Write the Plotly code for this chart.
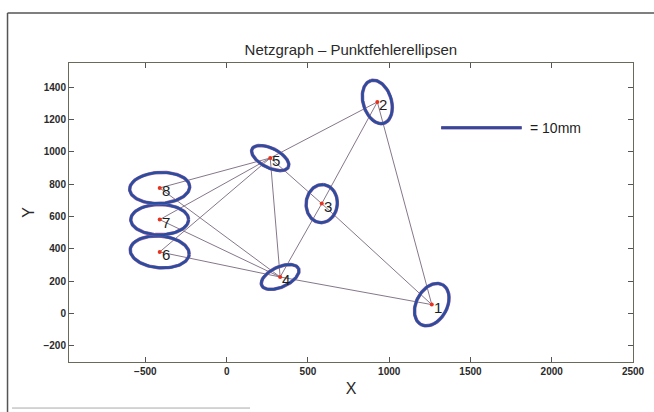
import numpy as np
import plotly.graph_objects as go

# ---- data ----
point_ids = ["1", "2", "3", "4", "5", "6", "7", "8"]
point_x = [1262, 927, 585, 329, 268, -412, -412, -412]
point_y = [55, 1309, 680, 226, 962, 381, 581, 777]

# error ellipses: semi-major, semi-minor (plot units), orientation of major axis (deg)
ell_a = [140, 138, 118, 125, 125, 182, 178, 185]
ell_b = [95, 87, 96, 62, 60, 98, 94, 96]
ell_ang = [62, 107, 85, 25, -27, -5, 0, 3]

# network edges (point ids)
edge_from = ["8", "7", "6", "8", "7", "6", "5", "5", "5", "3", "4", "3", "2", "4"]
edge_to   = ["5", "5", "5", "4", "4", "4", "4", "2", "3", "1", "3", "2", "1", "1"]

# scale bar
scale_x = [1320, 1815]
scale_y = [1149, 1149]
scale_label = "= 10mm"

x_ticks = [-500, 0, 500, 1000, 1500, 2000, 2500]
y_ticks = [-200, 0, 200, 400, 600, 800, 1000, 1200, 1400]
x_range = [-970, 2500]
y_range = [-300, 1550]

title = "Netzgraph \u2013 Punktfehlerellipsen"

# ---- figure ----
fig = go.Figure()
idx = {p: i for i, p in enumerate(point_ids)}

ex, ey = [], []
for a, b in zip(edge_from, edge_to):
    ex += [point_x[idx[a]], point_x[idx[b]], None]
    ey += [point_y[idx[a]], point_y[idx[b]], None]
fig.add_trace(go.Scatter(x=ex, y=ey, mode="lines",
                         line=dict(color="#85778a", width=1), hoverinfo="skip"))

t = np.linspace(0, 2 * np.pi, 121)
for cx, cy, a, b, ang in zip(point_x, point_y, ell_a, ell_b, ell_ang):
    th = np.deg2rad(ang)
    xs = cx + a * np.cos(t) * np.cos(th) - b * np.sin(t) * np.sin(th)
    ys = cy + a * np.cos(t) * np.sin(th) + b * np.sin(t) * np.cos(th)
    fig.add_trace(go.Scatter(x=xs, y=ys, mode="lines",
                             line=dict(color="#a0609f", width=3.5), hoverinfo="skip"))
    fig.add_trace(go.Scatter(x=xs, y=ys, mode="lines",
                             line=dict(color="#2a4e9f", width=2.6), hoverinfo="skip"))

fig.add_trace(go.Scatter(x=point_x, y=point_y, mode="markers",
                         marker=dict(color="#e8321e", size=4), hoverinfo="skip"))

fig.add_trace(go.Scatter(x=scale_x, y=scale_y, mode="lines",
                         line=dict(color="#a0609f", width=3.5), hoverinfo="skip"))
fig.add_trace(go.Scatter(x=scale_x, y=scale_y, mode="lines",
                         line=dict(color="#2a4e9f", width=2.6), hoverinfo="skip"))

annotations = []
for pid, x, y in zip(point_ids, point_x, point_y):
    annotations.append(dict(x=x, y=y, xref="x", yref="y", text=pid, showarrow=False,
                            xanchor="left", yanchor="middle", xshift=0, yshift=-2.5,
                            font=dict(family="Liberation Sans, Arial", size=15, color="#1e1e1e")))
annotations.append(dict(x=scale_x[1], y=scale_y[1], xref="x", yref="y", text=scale_label,
                        showarrow=False, xanchor="left", yanchor="middle", xshift=6,
                        font=dict(family="Liberation Sans, Arial", size=14, color="#1e1e1e")))

axis_common = dict(ticks="inside", ticklen=5, tickwidth=1, tickcolor="#555",
                   mirror="ticks", showline=True, linecolor="#6a6a5a", linewidth=1,
                   showgrid=False, zeroline=False, automargin=False,
                   tickfont=dict(family="Liberation Sans, Arial", size=10,
                                 color="#2a2a2a", weight="bold"))

fig.update_layout(
    width=654, height=412,
    margin=dict(l=69, r=21, t=63, b=50, autoexpand=False),
    paper_bgcolor="white", plot_bgcolor="white",
    showlegend=False,
    title=dict(text=title, x=0.5365, xanchor="center", y=1 - 50 / 412, yanchor="middle",
               font=dict(family="Liberation Sans, Arial", size=15, color="#2a2a2a")),
    xaxis=dict(range=x_range, tickvals=x_ticks, **axis_common,
               title=dict(text="X", standoff=6,
                          font=dict(family="Liberation Sans, Arial", size=16, color="#2a2a2a"))),
    yaxis=dict(range=y_range, tickvals=y_ticks, **axis_common,
               title=dict(text="Y", standoff=4,
                          font=dict(family="Liberation Sans, Arial", size=16, color="#2a2a2a"))),
    annotations=annotations,
    shapes=[
        dict(type="line", xref="paper", yref="paper", x0=-0.109, x1=-0.109, y0=-0.2, y1=1.167,
             line=dict(color="#555", width=1.5)),
        dict(type="line", xref="paper", yref="paper", x0=-0.109, x1=1.1, y0=1.167, y1=1.167,
             line=dict(color="#555", width=1.5)),
        dict(type="line", xref="paper", yref="paper", x0=-0.101, x1=0.321, y0=-0.154, y1=-0.154,
             line=dict(color="#aaa", width=1)),
    ],
)

fig.write_html("out.html", config={"displayModeBar": False},
               post_script="document.body.style.margin='0';document.body.style.overflow='hidden';")
